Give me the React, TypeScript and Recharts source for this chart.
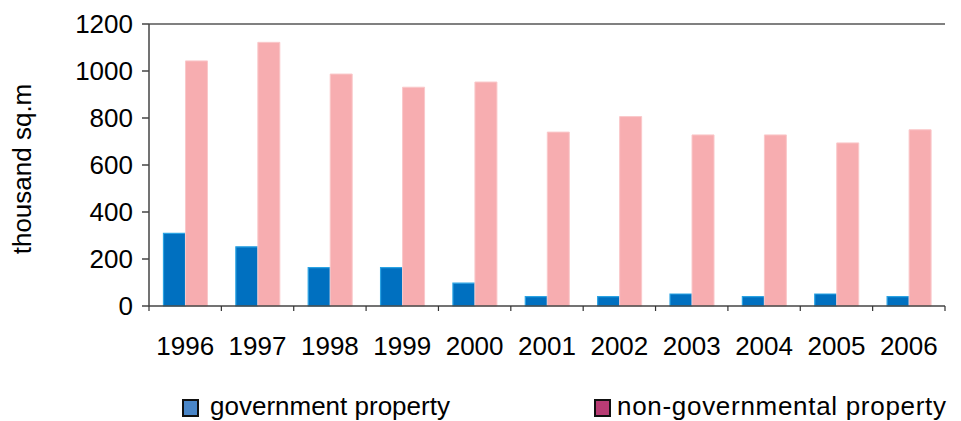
import React from "react";
import { BarChart, Bar, XAxis, YAxis, ReferenceLine, Legend } from "recharts";

const years = ["1996", "1997", "1998", "1999", "2000", "2001", "2002", "2003", "2004", "2005", "2006"];
const government = [309, 252, 163, 163, 97, 40, 40, 51, 40, 51, 40];
const nonGovernmental = [1043, 1122, 987, 931, 953, 740, 806, 728, 728, 694, 750];
const yTicks = [0, 200, 400, 600, 800, 1000, 1200];

const data = years.map((y, i) => ({ year: y, gov: government[i], nongov: nonGovernmental[i] }));

const FONT = "'Liberation Sans', Arial, sans-serif";
const W = 953;
const H = 413;
const MARGIN = { top: 16, right: 16, left: 0, bottom: 0 };
const YAXIS_W = 141;
const PLOT_W = W - MARGIN.right - MARGIN.left - YAXIS_W;

const XTick = (props: any) => {
  const { x, y, payload, index } = props;
  const bw = PLOT_W / years.length;
  return (
    <g>
      <line x1={x - bw / 2} x2={x - bw / 2} y1={y} y2={y + 5} stroke="#333" strokeWidth={1.2} />
      {index === years.length - 1 && (
        <line x1={x + bw / 2} x2={x + bw / 2} y1={y} y2={y + 5} stroke="#333" strokeWidth={1.2} />
      )}
      <text x={x} y={y + 49} textAnchor="middle" fontSize={26} fontFamily={FONT} fill="#000">
        {payload.value}
      </text>
    </g>
  );
};

const YLabel = (props: any) => {
  const cx = 23;
  const cy = 161;
  return (
    <text
      x={cx}
      y={cy}
      textAnchor="middle"
      fontSize={26}
      fontFamily={FONT}
      fill="#000"
      transform={`rotate(-90 ${cx} ${cy})`}
    >
      thousand sq.m
    </text>
  );
};

const swatch = (color: string) => (
  <span
    style={{
      display: "inline-block",
      width: 13,
      height: 14,
      background: color,
      border: "2px solid #111",
      position: "relative",
      top: 2,
      flexShrink: 0,
    }}
  />
);

const LegendContent = () => (
  <div style={{ position: "relative", height: 28, width: W, fontFamily: FONT, fontSize: 26, color: "#000" }}>
    <div style={{ position: "absolute", left: 174, top: 0, display: "flex", alignItems: "center" }}>
      {swatch("#4A86C8")}
      <span style={{ marginLeft: 11, lineHeight: "26px", whiteSpace: "nowrap" }}>government property</span>
    </div>
    <div style={{ position: "absolute", left: 586, top: 0, display: "flex", alignItems: "center" }}>
      {swatch("#B83C74")}
      <span style={{ marginLeft: 6, lineHeight: "26px", letterSpacing: "0.7px", whiteSpace: "nowrap" }}>
        non-governmental property
      </span>
    </div>
  </div>
);

export default function App() {
  return (
    <BarChart width={W} height={H} data={data} margin={MARGIN} barCategoryGap="20%" barGap={0}>
      <XAxis
        dataKey="year"
        tick={<XTick />}
        tickLine={false}
        tickSize={0}
        tickMargin={0}
        interval={0}
        height={87}
        axisLine={{ stroke: "#444", strokeWidth: 1.5 }}
      />
      <YAxis
        domain={[0, 1200]}
        ticks={yTicks}
        width={YAXIS_W}
        tickSize={7}
        tickMargin={9}
        tick={{ fontSize: 26, fontFamily: FONT, fill: "#000" }}
        tickLine={{ stroke: "#444", strokeWidth: 1.5 }}
        axisLine={{ stroke: "#444", strokeWidth: 1.5 }}
        label={<YLabel />}
      />
      <ReferenceLine y={1200} stroke="#808080" strokeWidth={2} />
      <Legend verticalAlign="bottom" content={<LegendContent />} wrapperStyle={{ left: 0, width: W, height: 28 }} />
      <Bar dataKey="gov" fill="#0070C0" stroke="#2BA3E3" strokeWidth={1.2} isAnimationActive={false} />
      <Bar dataKey="nongov" fill="#F7ADB0" stroke="#FAC8CA" strokeWidth={1} isAnimationActive={false} />
    </BarChart>
  );
}
